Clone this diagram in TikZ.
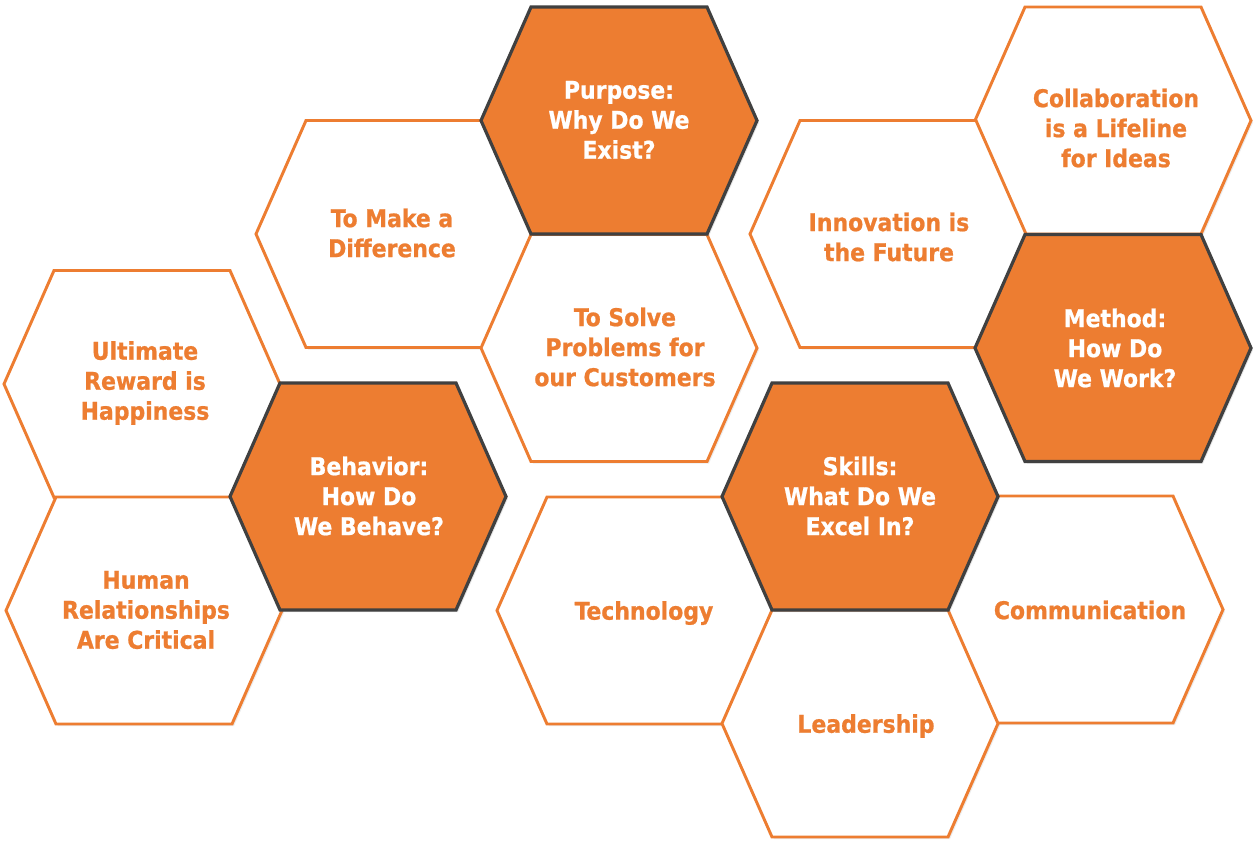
\documentclass[tikz,border=0pt]{standalone}
\usepackage{fontspec}
\newfontfamily\hexfont{DejaVu Sans Condensed}[BoldFont={DejaVu Sans Condensed Bold},BoldFeatures={FakeBold=0.8}]
\usetikzlibrary{shadows}
\definecolor{hexorange}{HTML}{ED7D31}
\definecolor{hexborder}{HTML}{404040}
\tikzset{
  pics/hexcell/.style={code={%
    \path[#1] (-138,0) -- (-88,-113.5) -- (88,-113.5) -- (138,0)
      -- (88,113.5) -- (-88,113.5) -- cycle;}},
  plainhex/.style={draw=hexorange,line width=2.2pt,fill=white,
    drop shadow={opacity=0.15,shadow xshift=1.5pt,shadow yshift=-1.5pt}},
  keyhex/.style={draw=hexborder,line width=2.4pt,fill=hexorange,
    drop shadow={opacity=0.2,shadow xshift=1.5pt,shadow yshift=-1.5pt}},
  plaintext/.style={text=hexorange,align=center,inner sep=0pt,
    font=\hexfont\bfseries\fontsize{18.3}{22.5}\selectfont},
  keytext/.style={plaintext,text=white},
}
\begin{document}
\begin{tikzpicture}[x=0.75pt,y=-0.75pt]
    \path[fill=white] (0,0) rectangle (1260,843);
    % outlined cells
    \pic at (394,234) {hexcell=plainhex};
    \pic at (619,348) {hexcell=plainhex};
    \pic at (1113,120.5) {hexcell=plainhex};
    \pic at (888,234) {hexcell=plainhex};
    \pic at (142,384) {hexcell=plainhex};
    \pic at (144,610.5) {hexcell=plainhex};
    \pic at (635,610.5) {hexcell=plainhex};
    \pic at (1085,609.5) {hexcell=plainhex};
    \pic at (860,723.5) {hexcell=plainhex};
    % key cells
    \pic at (619,120.5) {hexcell=keyhex};
    \pic at (1113,348) {hexcell=keyhex};
    \pic at (860,496.5) {hexcell=keyhex};
    \pic at (368,496.5) {hexcell=keyhex};
    % labels
    \node[keytext] (purpose) at (619,120) {Purpose:\\Why Do We\\Exist?};
    \node[plaintext] (difference) at (392,233) {To Make a\\Difference};
    \node[plaintext] (solve) at (625,347) {To Solve\\Problems for\\our Customers};
    \node[plaintext] (collab) at (1116,128) {Collaboration\\is a Lifeline\\for Ideas};
    \node[plaintext] (innov) at (889,237) {Innovation is\\the Future};
    \node[keytext] (method) at (1115,348) {Method:\\How Do\\We Work?};
    \node[keytext] (skills) at (860,496) {Skills:\\What Do We\\Excel In?};
    \node[keytext] (behave) at (369,496) {Behavior:\\How Do\\We Behave?};
    \node[plaintext] (reward) at (145,383) {Ultimate\\Reward is\\Happiness};
    \node[plaintext] (human) at (146,610) {Human\\Relationships\\Are Critical};
    \node[plaintext] (tech) at (644,613) {Technology};
    \node[plaintext] (comm) at (1090,610) {Communication};
    \node[plaintext] (lead) at (866,726) {Leadership};
\end{tikzpicture}
\end{document}
